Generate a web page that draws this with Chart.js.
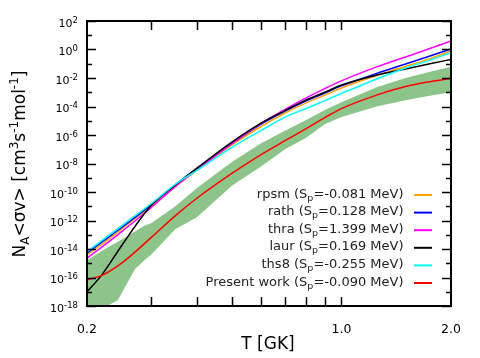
<!DOCTYPE html>
<html>
<head>
<meta charset="utf-8">
<script src="https://cdn.jsdelivr.net/npm/chart.js@4/dist/chart.umd.min.js"></script>
<style>
  html, body { margin: 0; padding: 0; background: #fff; }
  canvas { display: block; }
</style>
</head>
<body>
<canvas id="rateChart" width="480" height="358"></canvas>
<script>
// Temperatures (GK) shared by the model curves
const TEMPS = [0.2, 0.22, 0.25, 0.3, 0.35, 0.4, 0.5, 0.6, 0.7, 0.8, 0.9, 1.0, 1.25, 1.5, 1.75, 2.0];

// N_A<sv> in cm^3 s^-1 mol^-1
const rpsm = [4.0e-15, 2.2e-14, 2.8e-13, 1.0e-11, 2.5e-10, 3.2e-9, 2.0e-7, 3.8e-6, 3.5e-5, 1.8e-4, 6.3e-4, 2.0e-3, 1.5e-2, 6.5e-2, 0.23, 0.79];
const rath = [5.2e-15, 3.2e-14, 3.5e-13, 1.26e-11, 3.2e-10, 4.0e-9, 2.5e-7, 5.6e-6, 4.8e-5, 2.5e-4, 8.9e-4, 2.8e-3, 2.1e-2, 9.5e-2, 0.35, 1.08];
const thra = [2.3e-15, 1.4e-14, 1.8e-13, 7.9e-12, 2.5e-10, 3.5e-9, 2.5e-7, 6.3e-6, 6.3e-5, 4.0e-4, 1.8e-3, 6.3e-3, 6.0e-2, 0.30, 1.17, 4.0];
const laur = [1.0e-17, 1.6e-16, 2.0e-14, 1.12e-11, 3.2e-10, 4.5e-9, 3.2e-7, 6.6e-6, 5.2e-5, 2.9e-4, 1.0e-3, 3.2e-3, 1.6e-2, 4.3e-2, 0.10, 0.20];
const ths8 = [6.5e-15, 4.0e-14, 4.6e-13, 1.5e-11, 3.5e-10, 3.2e-9, 1.35e-7, 2.0e-6, 1.8e-5, 7.2e-5, 2.6e-4, 8.1e-4, 8.5e-3, 5.0e-2, 0.18, 0.60];
const present = [6.8e-17, 1.4e-16, 1.1e-15, 6.3e-14, 2.2e-12, 3.5e-11, 2.0e-9, 4.0e-8, 4.0e-7, 2.8e-6, 1.66e-5, 7.1e-5, 6.3e-4, 2.5e-3, 5.5e-3, 9.5e-3];

// Uncertainty band of the present work
const BAND_TEMPS = [0.2, 0.227, 0.243, 0.271, 0.288, 0.3, 0.35, 0.4, 0.5, 0.6, 0.7, 0.8, 0.9, 1.0, 1.25, 1.5, 1.75, 2.0];
const bandHigh = [1.7e-15, 1.2e-14, 3.2e-14, 1.7e-13, 4.4e-13, 6.3e-13, 1.0e-11, 1.8e-10, 1.26e-8, 2.5e-7, 2.0e-6, 1.12e-5, 5.6e-5, 2.0e-4, 2.2e-3, 1.0e-2, 2.8e-2, 6.2e-2];
const bandLow  = [3.2e-20, 1.0e-18, 2.5e-18, 4.0e-16, 1.7e-15, 4.0e-15, 2.5e-13, 1.6e-12, 2.8e-10, 6.0e-9, 1.0e-7, 6.3e-7, 5.6e-6, 1.8e-5, 1.0e-4, 2.8e-4, 5.6e-4, 1.0e-3];

// Legend
const NAMES   = ['rpsm', 'rath', 'thra', 'laur', 'ths8', 'Present work'];
const SP_VALS = ['-0.081', '0.128', '1.399', '0.169', '-0.255', '-0.090'];
const COLORS  = ['#ffa500', '#0000ff', '#ff00ff', '#000000', '#00ffff', '#ff0000'];
const SERIES  = [rpsm, rath, thra, laur, ths8, present];

// Axis ticks
const X_LABELS = [0.2, 1.0, 2.0];
const X_TICKS  = [0.3, 0.4, 0.5, 0.6, 0.7, 0.8, 0.9, 1.0];
const Y_LABEL_EXPS = [2, 0, -2, -4, -6, -8, -10, -12, -14, -16, -18];
const Y_MINOR_EXPS = [1, -1, -3, -5, -7, -9, -11, -13, -15, -17];

const FONT = '"DejaVu Sans", "Liberation Sans", sans-serif';

function pts(xs, ys) {
  return xs.map((x, i) => ({ x, y: ys[i] }));
}

// draw text made of parts with different size / vertical shift
function richText(ctx, parts, x, y, align) {
  let w = 0;
  parts.forEach(p => { ctx.font = `${p.s}px ${FONT}`; p.w = ctx.measureText(p.t).width; w += p.w; });
  let cx = align === 'right' ? x - w : align === 'center' ? x - w / 2 : x;
  ctx.textAlign = 'left';
  ctx.textBaseline = 'alphabetic';
  parts.forEach(p => {
    ctx.font = `${p.s}px ${FONT}`;
    ctx.fillText(p.t, cx, y + (p.dy || 0));
    cx += p.w;
  });
}

const frame = {
  id: 'frame',
  afterDraw(chart) {
    const { ctx, chartArea: a, scales: { x, y } } = chart;
    ctx.save();
    ctx.fillStyle = '#000';
    ctx.strokeStyle = '#000';

    // ticks (inward, on all sides)
    ctx.lineWidth = 1.5;
    ctx.beginPath();
    X_TICKS.forEach(t => {
      const px = Math.round(x.getPixelForValue(t)) + 0.5;
      ctx.moveTo(px, a.bottom); ctx.lineTo(px, a.bottom - 9);
      ctx.moveTo(px, a.top);    ctx.lineTo(px, a.top + 9);
    });
    Y_LABEL_EXPS.forEach(e => {
      const py = Math.round(y.getPixelForValue(Math.pow(10, e))) + 0.5;
      ctx.moveTo(a.left, py);  ctx.lineTo(a.left + 9, py);
      ctx.moveTo(a.right, py); ctx.lineTo(a.right - 9, py);
    });
    Y_MINOR_EXPS.forEach(e => {
      const py = Math.round(y.getPixelForValue(Math.pow(10, e))) + 0.5;
      ctx.moveTo(a.left, py);  ctx.lineTo(a.left + 5, py);
      ctx.moveTo(a.right, py); ctx.lineTo(a.right - 5, py);
    });
    ctx.stroke();

    // box
    ctx.lineWidth = 2;
    ctx.strokeRect(a.left, a.top, a.right - a.left, a.bottom - a.top);

    // y tick labels
    Y_LABEL_EXPS.forEach(e => {
      const py = y.getPixelForValue(Math.pow(10, e));
      richText(ctx, [{ t: '10', s: 11 }, { t: String(e), s: 8.5, dy: -4 }], 78, py + 5.5, 'right');
    });

    // x tick labels
    X_LABELS.forEach(t => {
      richText(ctx, [{ t: t.toFixed(1), s: 12.5 }], x.getPixelForValue(t), 333, 'center');
    });

    // axis titles
    richText(ctx, [{ t: 'T [GK]', s: 17 }], 268, 349, 'center');
    ctx.save();
    ctx.translate(25, 164);
    ctx.rotate(-Math.PI / 2);
    richText(ctx, [
      { t: 'N', s: 17 }, { t: 'A', s: 12, dy: 4 },
      { t: '<σv> [cm', s: 17 }, { t: '3', s: 12, dy: -7 },
      { t: 's', s: 17 }, { t: '-1', s: 12, dy: -7 },
      { t: 'mol', s: 17 }, { t: '-1', s: 12, dy: -7 },
      { t: ']', s: 17 }
    ], 0, 0, 'center');
    ctx.restore();

    // legend
    NAMES.forEach((name, i) => {
      const base = 197.5 + 17.6 * i;
      ctx.fillStyle = '#222';
      richText(ctx, [
        { t: name + ' (S', s: 13 }, { t: 'p', s: 9.5, dy: 3 },
        { t: '=' + SP_VALS[i] + ' MeV)', s: 13 }
      ], 403.5, base, 'right');
      ctx.strokeStyle = COLORS[i];
      ctx.lineWidth = 2;
      ctx.beginPath();
      ctx.moveTo(414, base - 2.5);
      ctx.lineTo(432, base - 2.5);
      ctx.stroke();
    });
    ctx.restore();
  }
};

const datasets = [
  {
    data: pts(BAND_TEMPS, bandHigh), fill: '+1', backgroundColor: 'rgb(141,196,137)',
    borderWidth: 0, pointRadius: 0, tension: 0, order: 10
  },
  {
    data: pts(BAND_TEMPS, bandLow), fill: false,
    borderWidth: 0, pointRadius: 0, tension: 0, order: 10
  }
];
SERIES.forEach((s, i) => {
  datasets.push({
    label: NAMES[i],
    data: pts(TEMPS, s),
    borderColor: COLORS[i],
    borderWidth: 1.5,
    pointRadius: 0,
    fill: false,
    cubicInterpolationMode: 'monotone',
    order: 6 - i
  });
});

new Chart(document.getElementById('rateChart').getContext('2d'), {
  type: 'line',
  data: { datasets },
  options: {
    responsive: false,
    animation: false,
    layout: { padding: { left: 87, top: 21, right: 29, bottom: 52 } },
    scales: {
      x: { type: 'logarithmic', min: 0.2, max: 2.0, display: false },
      y: { type: 'logarithmic', min: 1e-18, max: 1e2, display: false }
    },
    plugins: { legend: { display: false }, tooltip: { enabled: false } }
  },
  plugins: [frame]
});
</script>
</body>
</html>
